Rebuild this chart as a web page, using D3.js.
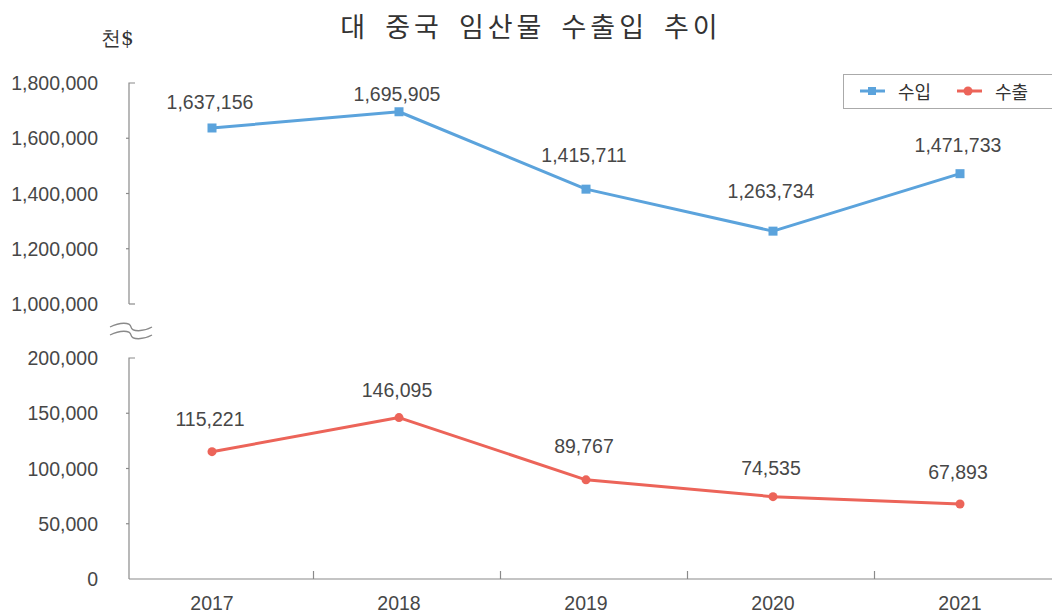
<!DOCTYPE html>
<html>
<head>
<meta charset="utf-8">
<script src="https://cdn.jsdelivr.net/npm/d3@7"></script>
<style>
  html, body { margin: 0; padding: 0; background: #fff; }
  svg { display: block; }
  text { fill: #474747; }
</style>
</head>
<body>
<svg id="chart" width="1052" height="615"></svg>
<script>
// Trade with China in forest products (thousand USD)
const years = ["2017", "2018", "2019", "2020", "2021"];
const importValues = [1637156, 1695905, 1415711, 1263734, 1471733]; // 수입
const exportValues = [115221, 146095, 89767, 74535, 67893];         // 수출
const upperTicks = [1000000, 1200000, 1400000, 1600000, 1800000];
const lowerTicks = [0, 50000, 100000, 150000, 200000];

// label lift above each marker (px)
const importLabelLift = [26, 18, 34, 40, 29];
const exportLabelLift = [33, 28, 34, 29, 32];

const blue = "#5ba3dc";
const red = "#ec6459";
const axisColor = "#8a8a8a";
const numFont = "'Liberation Sans', Arial, 'Noto Sans CJK KR', sans-serif";
const krFont = "'Noto Sans CJK KR', 'Noto Sans', sans-serif";
const fmt = d3.format(",");

const svg = d3.select("#chart");

const axisX = 129;
const x = d3.scalePoint().domain(years).range([212, 960]);
const step = x.step();
const yUpper = d3.scaleLinear().domain([1000000, 1800000]).range([304, 83]);
const yLower = d3.scaleLinear().domain([0, 200000]).range([579, 358]);

// Title
svg.append("text")
  .attr("x", 531).attr("y", 25)
  .attr("text-anchor", "middle").attr("dominant-baseline", "central")
  .style("font-family", krFont).style("font-size", "27px")
  .style("letter-spacing", "4px").style("word-spacing", "6px")
  .style("fill", "#333")
  .text("대 중국 임산물 수출입 추이");

// Unit
svg.append("text")
  .attr("x", 101).attr("y", 38)
  .attr("dominant-baseline", "central")
  .style("font-family", "'DejaVu Serif', 'Liberation Serif', serif")
  .style("font-size", "20px").style("fill", "#333")
  .text("천$");

// Y axis segment with bracket ends
function drawYAxis(scale, ticks) {
  const [top, bottom] = [scale(ticks[ticks.length - 1]), scale(ticks[0])];
  const g = svg.append("g");
  g.append("path")
    .attr("d", `M${axisX + 6},${top}H${axisX}V${bottom}`)
    .attr("fill", "none").attr("stroke", axisColor).attr("stroke-width", 1.2);
  ticks.forEach((t, i) => {
    if (i > 0 && i < ticks.length - 1) {
      g.append("line")
        .attr("x1", axisX - 3).attr("x2", axisX)
        .attr("y1", scale(t)).attr("y2", scale(t))
        .attr("stroke", axisColor).attr("stroke-width", 1.2);
    }
    g.append("text")
      .attr("x", 98).attr("y", scale(t))
      .attr("text-anchor", "end").attr("dominant-baseline", "central")
      .style("font-family", numFont).style("font-size", "19.5px")
      .text(fmt(t));
  });
  return g;
}
const upperG = drawYAxis(yUpper, upperTicks);
// close the upper segment with a short foot
upperG.append("line")
  .attr("x1", axisX).attr("x2", axisX + 6)
  .attr("y1", yUpper(1000000)).attr("y2", yUpper(1000000))
  .attr("stroke", axisColor).attr("stroke-width", 1.2);
drawYAxis(yLower, lowerTicks);

// Axis break marks
const wave = (y0) => `M110,${y0} C120,${y0 - 5} 130,${y0 - 5} 131,${y0} S143,${y0 + 5} 152,${y0}`;
[327, 335].forEach(y0 => {
  svg.append("path").attr("d", wave(y0))
    .attr("fill", "none").attr("stroke", axisColor).attr("stroke-width", 1.3);
});

// X axis
const baseY = yLower(0);
svg.append("line")
  .attr("x1", axisX).attr("x2", 1052)
  .attr("y1", baseY).attr("y2", baseY)
  .attr("stroke", axisColor).attr("stroke-width", 1.2);
years.slice(0, -1).forEach(yr => {
  const tx = x(yr) + step / 2 + 8;
  svg.append("line")
    .attr("x1", tx).attr("x2", tx)
    .attr("y1", baseY).attr("y2", baseY - 8)
    .attr("stroke", axisColor).attr("stroke-width", 1.2);
});
years.forEach(yr => {
  svg.append("text")
    .attr("x", x(yr)).attr("y", 603)
    .attr("text-anchor", "middle").attr("dominant-baseline", "central")
    .style("font-family", numFont).style("font-size", "19.5px")
    .text(yr);
});

// Series
function drawSeries(values, scale, color, shape, lifts) {
  const pts = values.map((v, i) => [x(years[i]), scale(v)]);
  svg.append("path")
    .attr("d", d3.line()(pts))
    .attr("fill", "none").attr("stroke", color).attr("stroke-width", 3)
    .attr("stroke-linejoin", "round");
  pts.forEach(([px, py], i) => {
    if (shape === "square") {
      svg.append("rect")
        .attr("x", px - 4.5).attr("y", py - 4.5)
        .attr("width", 9).attr("height", 9).attr("fill", color);
    } else {
      svg.append("circle").attr("cx", px).attr("cy", py).attr("r", 4.5).attr("fill", color);
    }
    svg.append("text")
      .attr("x", px - 2).attr("y", py - lifts[i])
      .attr("text-anchor", "middle").attr("dominant-baseline", "central")
      .style("font-family", numFont).style("font-size", "19.5px")
      .text(fmt(values[i]));
  });
}
drawSeries(importValues, yUpper, blue, "square", importLabelLift);
drawSeries(exportValues, yLower, red, "circle", exportLabelLift);

// Legend
const lg = svg.append("g");
lg.append("rect")
  .attr("x", 843.5).attr("y", 74.5).attr("width", 220).attr("height", 34)
  .attr("fill", "#fff").attr("stroke", "#aaa").attr("stroke-width", 1);
const legendItems = [
  { name: "수입", color: blue, shape: "square", x0: 860 },
  { name: "수출", color: red, shape: "circle", x0: 957 }
];
legendItems.forEach(it => {
  const ly = 91;
  lg.append("line").attr("x1", it.x0).attr("x2", it.x0 + 25)
    .attr("y1", ly).attr("y2", ly).attr("stroke", it.color).attr("stroke-width", 3);
  if (it.shape === "square") {
    lg.append("rect").attr("x", it.x0 + 8).attr("y", ly - 4)
      .attr("width", 8).attr("height", 8).attr("fill", it.color);
  } else {
    lg.append("circle").attr("cx", it.x0 + 11).attr("cy", ly).attr("r", 4.5).attr("fill", it.color);
  }
  lg.append("text")
    .attr("x", it.x0 + 38).attr("y", ly)
    .attr("dominant-baseline", "central")
    .style("font-family", krFont).style("font-size", "18px").style("fill", "#333")
    .text(it.name);
});
</script>
</body>
</html>
